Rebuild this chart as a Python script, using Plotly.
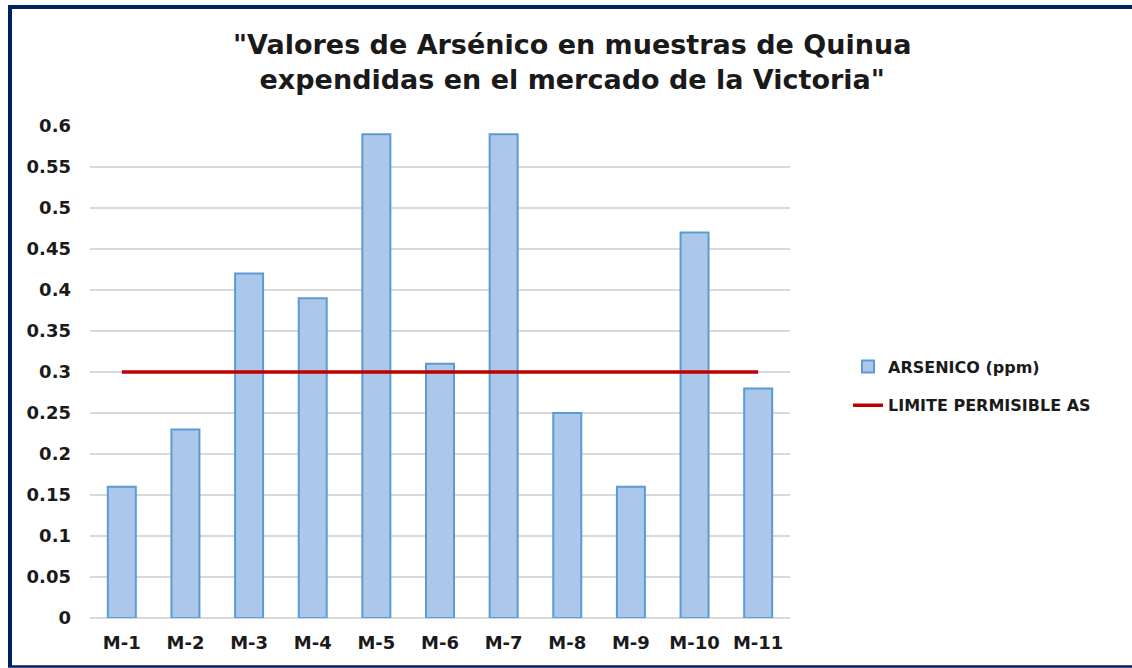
import plotly.graph_objects as go

categories = ["M-1", "M-2", "M-3", "M-4", "M-5", "M-6", "M-7", "M-8", "M-9", "M-10", "M-11"]
arsenico = [0.16, 0.23, 0.42, 0.39, 0.59, 0.31, 0.59, 0.25, 0.16, 0.47, 0.28]
limite = [0.3] * len(categories)
y_ticks = [0, 0.05, 0.1, 0.15, 0.2, 0.25, 0.3, 0.35, 0.4, 0.45, 0.5, 0.55, 0.6]
y_tick_text = ["0", "0.05", "0.1", "0.15", "0.2", "0.25", "0.3", "0.35", "0.4", "0.45", "0.5", "0.55", "0.6"]

W, H = 1132, 668
L, R, T, B = 90, 790, 126, 618

fig = go.Figure()
fig.add_trace(go.Bar(
    x=categories, y=arsenico, name="ARSENICO (ppm)", legendgroup="a",
    marker=dict(color="#abc8eb", line=dict(color="#5b9bd5", width=2)),
))
fig.add_trace(go.Scatter(
    x=categories, y=limite, name="LIMITE PERMISIBLE AS", mode="lines", legendgroup="b",
    line=dict(color="#c00000", width=3.5),
))

def px(x):
    return (x - L) / (R - L)

def py(y):
    return (B - y) / (B - T)

tick_font = dict(size=18, family="DejaVu Sans", weight="bold", color="#1a1a1a")

fig.update_layout(
    width=W, height=H,
    margin=dict(l=L, r=W - R, t=T, b=H - B),
    paper_bgcolor="white", plot_bgcolor="white",
    font=dict(family="DejaVu Sans", color="#1a1a1a"),
    bargap=0.56,
    showlegend=True,
    legend=dict(
        x=px(848), y=py(386), xanchor="left", yanchor="middle",
        font=dict(size=16, family="DejaVu Sans", weight="bold", color="#1a1a1a"),
        bgcolor="rgba(0,0,0,0)", traceorder="grouped", tracegroupgap=15,
    ),
    xaxis=dict(
        showgrid=False, showline=False, ticks="", tickfont=tick_font,
        ticklabelstandoff=12,
    ),
    yaxis=dict(
        range=[0, 0.6], tickvals=y_ticks, ticktext=y_tick_text,
        showgrid=True, gridcolor="#d9d9d9", gridwidth=1.5,
        zeroline=True, zerolinecolor="#d9d9d9", zerolinewidth=1.5,
        showline=False, ticks="", ticklabelstandoff=18, tickfont=tick_font,
    ),
    annotations=[
        dict(text='"Valores de Arsénico en muestras de Quinua<br>expendidas en el mercado de la Victoria"',
             xref="paper", yref="paper", x=px(572), y=py(62), xanchor="center", yanchor="middle",
             showarrow=False, align="center",
             font=dict(size=27, family="DejaVu Sans", weight="bold", color="#1a1a1a")),
    ],
    shapes=[
        dict(type="line", xref="paper", yref="paper",
             x0=px(10), x1=px(10), y0=py(667), y1=py(5),
             line=dict(color="#002060", width=4), layer="above"),
        dict(type="line", xref="paper", yref="paper",
             x0=px(8), x1=px(1132), y0=py(7), y1=py(7),
             line=dict(color="#002060", width=4), layer="above"),
        dict(type="line", xref="paper", yref="paper",
             x0=px(8), x1=px(1132), y0=py(666.5), y1=py(666.5),
             line=dict(color="#002060", width=2.5), layer="above"),
    ],
)

fig.write_html("out.html", config={"displayModeBar": False},
               post_script="document.body.style.margin='0';document.body.style.overflow='hidden';")
